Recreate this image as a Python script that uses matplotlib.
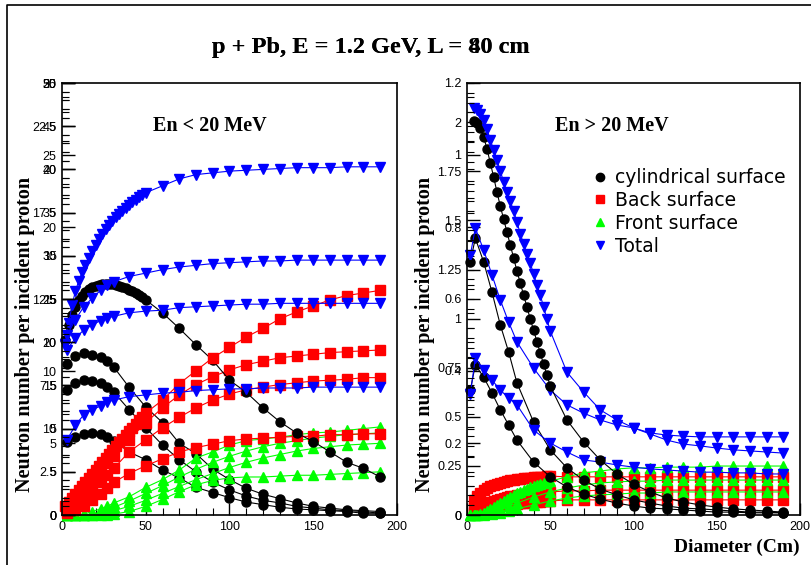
import matplotlib
matplotlib.use("Agg")
import matplotlib.pyplot as plt
from matplotlib.lines import Line2D
from matplotlib.ticker import MultipleLocator, FuncFormatter

# ---------------- data ----------------
# left panel (En < 20 MeV), values on the 0-50 scale
x_dense = [2, 4, 6, 8, 10, 12, 14, 16, 18, 20, 22, 24, 26, 28, 30, 32, 34, 36, 38, 40, 42, 44, 46, 48, 50]
x_tail = [60, 70, 80, 90, 100, 110, 120, 130, 140, 150, 160, 170, 180, 190]
x_step = [3, 8, 13, 18, 23, 27, 31, 40, 50] + x_tail

blk_a = [20.3, 22.0, 23.2, 24.1, 24.9, 25.4, 25.8, 26.2, 26.4, 26.5, 26.6, 26.7, 26.7, 26.7, 26.7,
         26.6, 26.5, 26.4, 26.3, 26.0, 25.9, 25.7, 25.5, 25.2, 24.9,
         23.4, 21.6, 19.7, 17.9, 15.6, 14.2, 12.4, 10.8, 9.5, 8.5, 7.3, 6.1, 5.4, 4.4]
blu_a = [19.8, 22.2, 24.3, 25.9, 27.1, 28.1, 28.9, 29.7, 30.5, 31.2, 31.9, 32.5, 33.1, 33.6, 34.0,
         34.5, 34.8, 35.2, 35.5, 35.9, 36.2, 36.5, 36.8, 37.0, 37.3,
         38.1, 38.9, 39.4, 39.6, 39.8, 39.9, 40.0, 40.1, 40.2, 40.2, 40.2, 40.3, 40.3, 40.3]
red_a = [1.0, 1.5, 2.0, 2.4, 2.9, 3.4, 3.8, 4.3, 4.8, 5.2, 5.7, 6.1, 6.6, 7.1, 7.5,
         8.0, 8.5, 8.8, 9.3, 9.7, 10.1, 10.5, 11.0, 11.3, 11.8,
         13.3, 15.2, 16.7, 18.2, 19.4, 20.6, 21.6, 22.7, 23.5, 24.2, 24.9, 25.4, 25.7, 26.0]

blk_b = [17.5, 18.4, 18.8, 18.5, 18.3, 17.8, 17.1, 14.8, 12.5,
         10.7, 8.3, 7.1, 5.3, 4.1, 3.1, 2.4, 1.9, 1.4, 1.0, 0.8, 0.6, 0.5, 0.4]
blk_c = [14.5, 15.3, 15.6, 15.5, 15.3, 14.8, 14.2, 12.2, 10.1,
         8.1, 6.4, 5.0, 3.8, 2.9, 2.2, 1.7, 1.4, 1.0, 0.8, 0.6, 0.5, 0.4, 0.2]
blk_d = [8.5, 9.0, 9.4, 9.5, 9.4, 9.0, 8.6, 7.3, 6.4,
         5.2, 4.3, 3.2, 2.6, 2.0, 1.5, 1.2, 0.9, 0.7, 0.6, 0.5, 0.4, 0.2, 0.2]
blu_b = [20.8, 22.6, 24.1, 25.1, 26.0, 26.6, 27.0, 27.6, 28.0,
         28.4, 28.7, 28.9, 29.1, 29.2, 29.3, 29.4, 29.4, 29.5, 29.5, 29.5, 29.5, 29.5, 29.5]
blu_c = [19.1, 20.5, 21.4, 22.0, 22.5, 22.8, 23.0, 23.4, 23.6,
         23.7, 24.0, 24.1, 24.2, 24.3, 24.4, 24.4, 24.5, 24.5, 24.5, 24.5, 24.5, 24.5, 24.5]
blu_d = [8.7, 10.4, 11.6, 12.2, 12.6, 13.1, 13.3, 13.7, 13.9,
         14.1, 14.2, 14.4, 14.5, 14.6, 14.6, 14.7, 14.7, 14.7, 14.8, 14.8, 14.8, 14.8, 14.8]
red_b = [0.6, 1.7, 2.9, 4.1, 5.1, 6.0, 6.8, 8.7, 10.7,
         12.4, 13.9, 15.1, 16.0, 16.8, 17.4, 17.8, 18.2, 18.4, 18.6, 18.8, 18.9, 19.0, 19.1]
red_c = [0.5, 1.2, 2.0, 2.9, 3.8, 4.6, 5.4, 7.3, 8.7,
         10.1, 11.3, 12.4, 13.3, 14.0, 14.5, 14.8, 15.1, 15.3, 15.5, 15.6, 15.7, 15.9, 15.9]
red_d = [0.2, 0.6, 1.0, 1.7, 2.4, 3.1, 3.8, 4.8, 5.7,
         6.5, 7.3, 7.8, 8.2, 8.6, 8.8, 8.9, 9.0, 9.1, 9.1, 9.3, 9.3, 9.4, 9.4]
grn_a = [0.0, 0.0, 0.1, 0.4, 0.7, 1.0, 1.4, 2.1, 3.2,
         4.1, 5.2, 6.6, 7.3, 8.1, 8.6, 8.8, 9.0, 9.3, 9.5, 9.6, 9.8, 10.0, 10.2]
grn_b = [0.0, 0.0, 0.0, 0.1, 0.3, 0.6, 0.9, 1.6, 2.5,
         3.4, 4.4, 5.3, 6.1, 6.8, 7.4, 7.9, 8.3, 8.6, 8.9, 9.1, 9.3, 9.4, 9.5]
grn_c = [0.0, 0.0, 0.0, 0.0, 0.1, 0.3, 0.5, 1.0, 1.7,
         2.5, 3.3, 4.1, 4.8, 5.5, 6.1, 6.6, 7.0, 7.4, 7.7, 7.9, 8.1, 8.2, 8.3]
grn_d = [0.0, 0.0, 0.0, 0.0, 0.0, 0.0, 0.1, 0.4, 1.0,
         1.8, 2.7, 3.5, 4.0, 4.3, 4.4, 4.4, 4.5, 4.6, 4.6, 4.7, 4.8, 4.9, 5.0]

# right panel (En > 20 MeV), values on the 0-1.2 scale
xr_dense = [4, 6, 8, 10, 12, 14, 16, 18, 20, 22, 24, 26, 28, 30, 32, 34, 36, 38, 40, 42, 44, 46, 48, 50]
xr_step = [2, 5, 10, 15, 20, 25, 30, 40, 50] + x_tail

blk_ar = [1.094, 1.089, 1.075, 1.050, 1.017, 0.978, 0.939, 0.897, 0.858, 0.822, 0.786, 0.750,
          0.714, 0.678, 0.644, 0.611, 0.578, 0.544, 0.514, 0.481, 0.450, 0.419, 0.389, 0.358,
          0.264, 0.203, 0.153, 0.114, 0.086, 0.064, 0.047, 0.036, 0.028, 0.022, 0.017, 0.014, 0.011, 0.008]
blu_ar = [1.131, 1.125, 1.114, 1.097, 1.072, 1.042, 1.014, 0.986, 0.956, 0.925, 0.897, 0.872,
          0.844, 0.814, 0.781, 0.753, 0.725, 0.700, 0.669, 0.639, 0.611, 0.578, 0.544, 0.511,
          0.397, 0.342, 0.292, 0.264, 0.242, 0.228, 0.222, 0.219, 0.217, 0.217, 0.217, 0.217, 0.217, 0.217]
red_ar = [0.042, 0.053, 0.061, 0.069, 0.075, 0.081, 0.083, 0.086, 0.089, 0.092, 0.094, 0.097,
          0.097, 0.100, 0.100, 0.103, 0.103, 0.103, 0.106, 0.106, 0.106, 0.106, 0.108, 0.108,
          0.106, 0.106, 0.106, 0.106, 0.106, 0.106, 0.106, 0.106, 0.106, 0.106, 0.106, 0.106, 0.106, 0.106]
red_br = [0.011, 0.017, 0.022, 0.028, 0.031, 0.036, 0.039, 0.042, 0.044, 0.047, 0.050, 0.053,
          0.053, 0.056, 0.056, 0.058, 0.058, 0.058, 0.061, 0.061, 0.061, 0.064, 0.064, 0.064,
          0.067, 0.067, 0.069, 0.069, 0.069, 0.069, 0.069, 0.069, 0.069, 0.069, 0.069, 0.069, 0.069, 0.069]
red_cr = [0.006, 0.008, 0.011, 0.014, 0.017, 0.019, 0.022, 0.025, 0.025, 0.028, 0.028, 0.031,
          0.031, 0.031, 0.033, 0.033, 0.033, 0.036, 0.036, 0.036, 0.036, 0.039, 0.039, 0.039,
          0.042, 0.042, 0.042, 0.042, 0.042, 0.042, 0.042, 0.042, 0.042, 0.042, 0.042, 0.042, 0.042, 0.042]
grn_ar = [0.0, 0.0, 0.003, 0.006, 0.011, 0.017, 0.022, 0.028, 0.033, 0.039, 0.044, 0.050,
          0.056, 0.061, 0.064, 0.069, 0.072, 0.078, 0.081, 0.083, 0.086, 0.089, 0.092, 0.094,
          0.106, 0.117, 0.122, 0.128, 0.131, 0.131, 0.133, 0.133, 0.133, 0.136, 0.136, 0.136, 0.136, 0.136]

blk_br = [0.703, 0.769, 0.703, 0.619, 0.528, 0.453, 0.367, 0.258, 0.181,
          0.131, 0.097, 0.072, 0.056, 0.042, 0.033, 0.025, 0.019, 0.017, 0.014, 0.011, 0.008, 0.008, 0.006]
blu_br = [0.722, 0.797, 0.736, 0.667, 0.597, 0.536, 0.481, 0.408, 0.347,
          0.306, 0.283, 0.264, 0.250, 0.242, 0.225, 0.208, 0.197, 0.192, 0.186, 0.181, 0.178, 0.175, 0.172]
blk_cr = [0.347, 0.417, 0.383, 0.339, 0.292, 0.250, 0.208, 0.147, 0.106,
          0.078, 0.058, 0.044, 0.033, 0.025, 0.019, 0.017, 0.014, 0.011, 0.008, 0.008, 0.006, 0.006, 0.006]
blu_cr = [0.336, 0.436, 0.403, 0.375, 0.347, 0.325, 0.306, 0.236, 0.200,
          0.175, 0.153, 0.147, 0.139, 0.133, 0.128, 0.125, 0.122, 0.119, 0.119, 0.117, 0.117, 0.114, 0.114]
grn_br = [0.0, 0.0, 0.003, 0.008, 0.017, 0.025, 0.033, 0.050, 0.064,
          0.075, 0.083, 0.089, 0.092, 0.094, 0.094, 0.097, 0.097, 0.097, 0.097, 0.097, 0.097, 0.097, 0.097]
grn_cr = [0.0, 0.0, 0.0, 0.003, 0.006, 0.011, 0.017, 0.028, 0.039,
          0.047, 0.053, 0.056, 0.058, 0.061, 0.061, 0.064, 0.064, 0.064, 0.064, 0.064, 0.064, 0.064, 0.064]

legend_labels = ["cylindrical surface", "Back surface", "Front surface", "Total"]

BLACK, RED, GREEN, BLUE = "#000000", "#ff0000", "#00ff00", "#0000ff"
SERIF = "Liberation Serif"
SANS = "Liberation Sans"

W, H = 811, 565
fig = plt.figure(figsize=(W / 100, H / 100), dpi=100)


def rect(x0, y0, x1, y1):
    return [x0 / W, 1 - y1 / H, (x1 - x0) / W, (y1 - y0) / H]


fmt = FuncFormatter(lambda v, p: "%g" % round(v, 4))


def setup_axis(ax, top, major, minor):
    ax.set_xlim(0, 200)
    ax.set_ylim(0, top)
    ax.xaxis.set_major_locator(MultipleLocator(50))
    ax.xaxis.set_minor_locator(MultipleLocator(10))
    ax.yaxis.set_major_locator(MultipleLocator(major))
    ax.yaxis.set_minor_locator(MultipleLocator(minor))
    ax.yaxis.set_major_formatter(fmt)
    ax.xaxis.set_major_formatter(fmt)
    ax.tick_params(which="both", direction="in", labelsize=9, pad=4)
    ax.tick_params(which="major", length=9, width=1)
    ax.tick_params(which="minor", length=5, width=0.8)
    for lab in ax.get_xticklabels() + ax.get_yticklabels():
        lab.set_fontfamily(SANS)
    for s in ax.spines.values():
        s.set_linewidth(1.2)


def overlay_axis(ax, top, major, minor):
    # ROOT-style superimposed frames: extra y scales drawn on the same left edge
    a = fig.add_axes(ax.get_position(), frameon=False)
    a.patch.set_visible(False)
    a.set_xlim(0, 200)
    a.set_ylim(0, top)
    a.set_xticks([])
    a.yaxis.set_major_locator(MultipleLocator(major))
    a.yaxis.set_minor_locator(MultipleLocator(minor))
    a.yaxis.set_major_formatter(fmt)
    a.tick_params(axis="y", which="both", direction="in", labelsize=9, pad=4)
    a.tick_params(axis="y", which="major", length=9, width=1)
    a.tick_params(axis="y", which="minor", length=5, width=0.8)
    for lab in a.get_yticklabels():
        lab.set_fontfamily(SANS)
    return a


def draw(ax, x, y, color, marker):
    ax.plot(x, y, color=color, lw=0.8, marker=marker, ms=6.5, mfc=color, mec=color, clip_on=False)


# ---------------- left panel ----------------
axl = fig.add_axes(rect(62, 83, 397, 515))
setup_axis(axl, 50, 5, 1)
overlay_axis(axl, 25, 2.5, 0.5)
overlay_axis(axl, 30, 5, 1)

for ys, col, mk in [(blk_b, BLACK, "o"), (blk_c, BLACK, "o"), (blk_d, BLACK, "o"),
                    (grn_a, GREEN, "^"), (grn_b, GREEN, "^"), (grn_c, GREEN, "^"), (grn_d, GREEN, "^"),
                    (red_b, RED, "s"), (red_c, RED, "s"), (red_d, RED, "s")]:
    draw(axl, x_step, ys, col, mk)
for ys, col, mk in [(blk_a, BLACK, "o"), (red_a, RED, "s"), (blu_a, BLUE, "v")]:
    draw(axl, x_dense + x_tail, ys, col, mk)
for ys in [blu_b, blu_c, blu_d]:
    draw(axl, x_step, ys, BLUE, "v")

axl.text(0.44, 0.9, "En < 20 MeV", transform=axl.transAxes, ha="center", va="center",
         fontsize=14.5, fontweight="bold", family=SERIF)

# ---------------- right panel ----------------
axr = fig.add_axes(rect(467, 83, 800, 515))
setup_axis(axr, 1.2, 0.2, 0.04)
overlay_axis(axr, 2.2, 0.25, 0.05)

for ys, col, mk in [(red_ar, RED, "s"), (red_br, RED, "s"), (red_cr, RED, "s"), (grn_ar, GREEN, "^")]:
    draw(axr, xr_dense + x_tail, ys, col, mk)
for ys, col, mk in [(grn_br, GREEN, "^"), (grn_cr, GREEN, "^"),
                    (blk_br, BLACK, "o"), (blk_cr, BLACK, "o"),
                    (blu_br, BLUE, "v"), (blu_cr, BLUE, "v")]:
    draw(axr, xr_step, ys, col, mk)
for ys, col, mk in [(blk_ar, BLACK, "o"), (blu_ar, BLUE, "v")]:
    draw(axr, xr_dense + x_tail, ys, col, mk)

axr.text(0.435, 0.9, "En > 20 MeV", transform=axr.transAxes, ha="center", va="center",
         fontsize=14.5, fontweight="bold", family=SERIF)

handles = [Line2D([], [], ls="none", marker=m, color=c, ms=6)
           for m, c in [("o", BLACK), ("s", RED), ("^", GREEN), ("v", BLUE)]]
axr.legend(handles, legend_labels, loc="upper left", bbox_to_anchor=(0.36, 0.82),
           frameon=False, handlelength=0.6, handletextpad=0.5, labelspacing=0.2,
           borderaxespad=0, prop={"family": "DejaVu Sans", "size": 13.5})

# ---------------- texts ----------------
for title in ["p + Pb, E = 1.2 GeV, L = 40 cm", "p + Pb, E = 1.2 GeV, L = 80 cm"]:
    fig.text(371 / W, 1 - 47 / H, title, ha="center", va="center",
             fontsize=17.5, fontweight="bold", family=SERIF)
for xpix in [25, 425]:
    fig.text(xpix / W, 1 - 334 / H, "Neutron number per incident proton", rotation=90,
             ha="center", va="center", fontsize=14.5, fontweight="bold", family=SERIF)
fig.text(800 / W, 1 - 547 / H, "Diameter (Cm)", ha="right", va="center",
         fontsize=14, fontweight="bold", family=SERIF)

# outer frame
fig.add_artist(Line2D([7 / W, 7 / W, 1], [0, 1 - 5 / H, 1 - 5 / H], color="black", lw=1.2,
                      transform=fig.transFigure))

fig.savefig("out.png", dpi=100)
